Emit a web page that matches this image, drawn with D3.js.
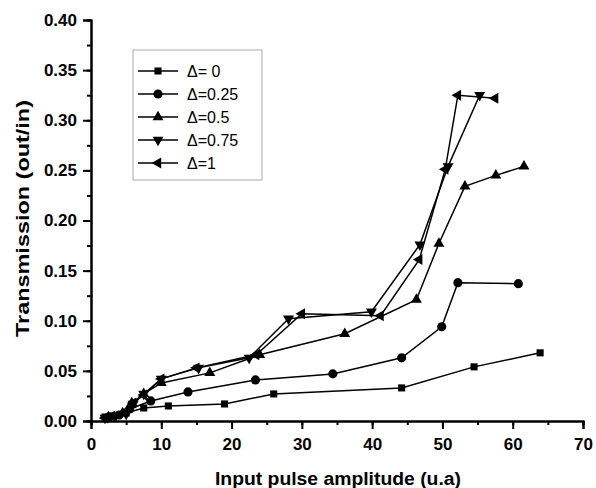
<!DOCTYPE html>
<html>
<head>
<meta charset="utf-8">
<script src="https://cdn.jsdelivr.net/npm/d3@7"></script>
<style>
  body { margin: 0; background: #fff; }
  svg { display: block; }
  text { font-family: "Liberation Sans", Arial, sans-serif; }
</style>
</head>
<body>
<div id="chart"></div>
<script>
// data: [input amplitude, transmission]
const delta0 = [[2, 0.004], [3, 0.005], [5, 0.008], [7.5, 0.013], [11, 0.015], [19, 0.017], [26, 0.027], [44.2, 0.033], [54.5, 0.054], [63.9, 0.068]];
const delta025 = [[2.5, 0.004], [4, 0.006], [5.5, 0.012], [8.5, 0.020], [13.8, 0.029], [23.4, 0.041], [34.4, 0.047], [44.2, 0.063], [49.9, 0.094], [52.2, 0.138], [60.8, 0.137]];
const delta05 = [[2.5, 0.004], [4.5, 0.008], [5.8, 0.018], [7.5, 0.027], [10, 0.038], [16.9, 0.048], [24, 0.066], [36.1, 0.087], [46.3, 0.121], [49.5, 0.177], [53.2, 0.234], [57.6, 0.245], [61.6, 0.254]];
const delta075 = [[2, 0.003], [3.5, 0.005], [5, 0.007], [6, 0.017], [7.5, 0.027], [10, 0.042], [15.3, 0.053], [22.5, 0.063], [28.1, 0.102], [39.9, 0.109], [46.8, 0.176], [50.8, 0.254], [55.3, 0.325]];
const delta1 = [[2, 0.003], [3, 0.005], [5, 0.010], [6, 0.018], [7.5, 0.026], [10, 0.042], [15, 0.053], [23.5, 0.066], [30, 0.107], [41.2, 0.105], [46.7, 0.161], [50.4, 0.251], [52.2, 0.325], [57.5, 0.322]];

const seriesNames = ['\u0394= 0', '\u0394=0.25', '\u0394=0.5', '\u0394=0.75', '\u0394=1'];
const seriesData = [delta0, delta025, delta05, delta075, delta1];
const xTicks = [0, 10, 20, 30, 40, 50, 60, 70];
const yTicks = [0, 0.05, 0.10, 0.15, 0.20, 0.25, 0.30, 0.35, 0.40];

const width = 596, height = 488;
const margin = { top: 20, right: 13, bottom: 67, left: 91 };

const svg = d3.select('#chart')
  .append('svg')
  .attr('width', width)
  .attr('height', height);

const x = d3.scaleLinear().domain([0, 70]).range([margin.left, width - margin.right]);
const y = d3.scaleLinear().domain([0, 0.40]).range([height - margin.bottom, margin.top]);

// marker shapes: square, circle, up / down / left triangle
const markers = [
  { type: d3.symbolSquare, size: 50, rot: 0 },
  { type: d3.symbolCircle, size: 66, rot: 0 },
  { type: d3.symbolTriangle, size: 52, rot: 0 },
  { type: d3.symbolTriangle, size: 52, rot: 180 },
  { type: d3.symbolTriangle, size: 52, rot: -90 }
];

// axes
const xAxis = svg.append('g')
  .attr('transform', `translate(0,${y(0)})`);
xAxis.call(d3.axisBottom(x).tickValues(d3.range(0, 71, 5)).tickSize(4).tickFormat(''));
xAxis.call(g => g.append('g')
  .call(d3.axisBottom(x).tickValues(xTicks).tickSize(8).tickFormat(d3.format('d'))));

const yAxis = svg.append('g')
  .attr('transform', `translate(${x(0)},0)`);
yAxis.call(d3.axisLeft(y).tickValues(d3.range(0, 0.4001, 0.025)).tickSize(4).tickFormat(''));
yAxis.call(g => g.append('g')
  .call(d3.axisLeft(y).tickValues(yTicks).tickSize(8).tickFormat(d3.format('.2f'))));

svg.selectAll('.domain')
  .attr('stroke', '#000')
  .attr('stroke-width', 2);
svg.selectAll('.tick line')
  .attr('stroke', '#000')
  .attr('stroke-width', 2);
svg.selectAll('.tick text')
  .attr('fill', '#000')
  .style('font-size', '17px')
  .style('font-weight', 'bold');
xAxis.selectAll('.tick text').attr('y', 12).attr('dy', '1em');
yAxis.selectAll('.tick text').attr('x', -14);

// axis titles
svg.append('text')
  .attr('x', 338)
  .attr('y', 485)
  .attr('text-anchor', 'middle')
  .attr('textLength', 246)
  .attr('lengthAdjust', 'spacingAndGlyphs')
  .style('font-size', '18px')
  .style('font-weight', 'bold')
  .text('Input pulse amplitude (u.a)');

svg.append('text')
  .attr('transform', `translate(29,${(y(0) + y(0.4)) / 2 - 2}) rotate(-90)`)
  .attr('text-anchor', 'middle')
  .attr('textLength', 237)
  .attr('lengthAdjust', 'spacingAndGlyphs')
  .style('font-size', '18px')
  .style('font-weight', 'bold')
  .text('Transmission (out/in)');

// series
const line = d3.line()
  .x(d => x(d[0]))
  .y(d => y(d[1]));

seriesData.forEach((data, i) => {
  const m = markers[i];
  const sym = d3.symbol().type(m.type).size(m.size);

  svg.append('path')
    .datum(data)
    .attr('fill', 'none')
    .attr('stroke', '#000')
    .attr('stroke-width', 1.5)
    .attr('d', line);

  svg.append('g')
    .selectAll('path')
    .data(data)
    .enter()
    .append('path')
    .attr('transform', d => `translate(${x(d[0])},${y(d[1])}) rotate(${m.rot})`)
    .attr('d', sym)
    .attr('fill', '#000');
});

// legend
const legend = svg.append('g').attr('transform', 'translate(133,50)');
legend.append('rect')
  .attr('width', 129)
  .attr('height', 130)
  .attr('fill', '#fff')
  .attr('stroke', '#aaa')
  .attr('stroke-width', 1);

seriesNames.forEach((name, i) => {
  const m = markers[i];
  const row = legend.append('g').attr('transform', `translate(0,${21 + i * 23})`);
  row.append('line')
    .attr('x1', 5).attr('x2', 45)
    .attr('stroke', '#000')
    .attr('stroke-width', 1.5);
  row.append('path')
    .attr('transform', `translate(25,0) rotate(${m.rot})`)
    .attr('d', d3.symbol().type(m.type).size(m.size))
    .attr('fill', '#000');
  row.append('text')
    .attr('x', 54)
    .attr('dy', '0.35em')
    .style('font-size', '16px')
    .text(name);
});
</script>
</body>
</html>
